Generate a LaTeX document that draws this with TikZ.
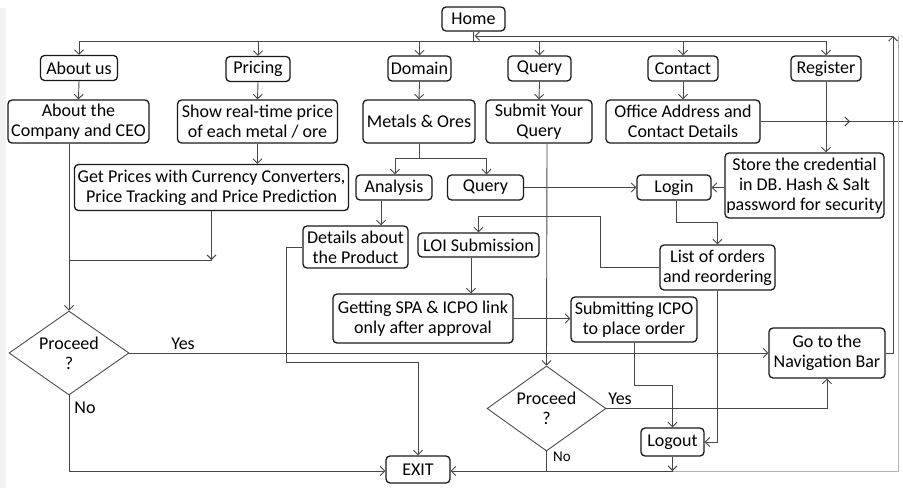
\documentclass[tikz,border=0pt]{standalone}
\usepackage{fontspec}
\setmainfont{Carlito}
\usetikzlibrary{arrows.meta,shapes.geometric}
\begin{document}
\begin{tikzpicture}[x=1pt,y=-1pt,
  box/.style={draw=black!90,line width=1.3pt,rounded corners=4pt,align=center,
    inner sep=0pt,font=\fontsize{18}{20}\selectfont},
  sz/.style 2 args={minimum width=#1pt,minimum height=#2pt},
  link/.style={draw=black!72,line width=0.9pt,-{Straight Barb[length=4.5pt,width=9pt]}},
  plain/.style={draw=black!72,line width=0.9pt},
  dia/.style={diamond,draw=black!70,line width=0.9pt,minimum width=120pt,
    minimum height=84pt,inner sep=0pt},
  lbl/.style={font=\fontsize{18}{20}\selectfont,align=center,inner sep=0pt},
  small/.style={font=\fontsize{15}{17}\selectfont,inner sep=0pt}
]
\useasboundingbox (0,0) rectangle (903,488);
\fill[black!5] (0,8) rectangle (6,488);

% top level
\node[box,sz={63}{24}] (home) at (473.5,19) {Home};
\node[box,sz={77}{25}] (about) at (79,68) {About us};
\node[box,sz={64}{25}] (pricing) at (258,69) {Pricing};
\node[box,sz={63}{25}] (domain) at (419.5,68.5) {Domain};
\node[box,sz={63}{25}] (query) at (539.5,68.5) {Query};
\node[box,sz={70}{25}] (contact) at (683,68.5) {Contact};
\node[box,sz={70}{25}] (register) at (826,68.5) {Register};

% second row
\node[box,sz={141}{43}] (aboutco) at (78.5,121.5) {About the\\Company and CEO};
\node[box,sz={160}{43}] (price) at (257.5,121.5) {Show real-time price\\of each metal / ore};
\node[box,sz={112}{43}] (metals) at (419,121.5) {Metals \& Ores};
\node[box,sz={106}{43}] (submit) at (539,121.5) {Submit Your\\Query};
\node[box,sz={154}{43}] (office) at (683,121.5) {Office Address and\\Contact Details};

% third row
\node[box,sz={274}{46}] (getprices) at (211.5,187.5) {Get Prices with Currency Converters,\\Price Tracking and Price Prediction};
\node[box,sz={76}{25}] (analysis) at (394,187.5) {Analysis};
\node[box,sz={76}{25}] (query2) at (485.5,187.5) {Query};
\node[box,sz={74}{25}] (login) at (674,187.5) {Login};
\node[box,sz={159}{65}] (store) at (804.5,185.5) {Store the credential\\in DB. Hash \& Salt\\password for security};

% middle
\node[box,sz={105}{42}] (details) at (355.5,247) {Details about\\the Product};
\node[box,sz={121}{24}] (loi) at (478.5,245) {LOI Submission};
\node[box,sz={115}{45}] (list) at (717.5,267.5) {List of orders\\and reordering};
\node[box,sz={180}{49}] (spa) at (423,318.5) {Getting SPA \& ICPO link\\only after approval};
\node[box,sz={126}{45}] (submitting) at (634,319.5) {Submitting ICPO\\to place order};
\node[box,sz={116}{50}] (nav) at (827,353) {Go to the\\Navigation Bar};

% decisions
\node[dia] (d1) at (69,353) {};
\node[lbl] (d1t) at (d1) {Proceed\\?};
\node[dia,minimum width=119pt,minimum height=85pt] (d2) at (546.5,408.5) {};
\node[lbl] (d2t) at (d2) {Proceed\\?};

% bottom
\node[box,sz={63}{28}] (logout) at (672.5,442) {Logout};
\node[box,sz={64}{27}] (exit) at (418,469.5) {EXIT};

% edge labels
\node[lbl] (yes1) at (183,344) {Yes};
\node[lbl] (no1) at (85,408) {No};
\node[lbl] (yes2) at (620,399) {Yes};
\node[small] (no2) at (562,457) {No};

% menu bus
\coordinate (bus) at (79,41);
\draw[plain] (home.south) -- (home.south |- bus);
\draw[plain] (bus) -- (register.north |- bus);
\foreach \n in {about,pricing,domain,query,contact,register}
  \draw[link] (\n.north |- bus) -- (\n.north);

% return path to home
\coordinate (rtop) at (893,36);
\draw[link] (nav.east) -- (nav.east -| rtop) -- (rtop);
\draw[link] (rtop) -- ([xshift=1pt]home.south |- rtop);

% menu to pages
\draw[link] (pricing.south) -- (price.north);
\draw[link] (domain.south) -- (metals.north);
\draw[link] (query.south) -- (submit.north);
\draw[link] (contact.south) -- (office.north);
\draw[link] (about.south) -- (aboutco.north);
\draw[link] (register.south) -- (register.south |- store.north);

% office details
\coordinate (offmid) at (850,121.5);
\coordinate (offend) at (903,121.5);
\draw[link] (office.east) -- (offmid);
\draw[plain] (offmid) -- (offend);

% left column
\coordinate (gp) at (211.5,260);
\draw[link] (price.south) -- (price.south |- getprices.north);
\draw[link] (getprices.south) -- (gp);
\draw[plain] (gp) -- (d1.north |- gp);
\draw[link] (aboutco.south -| d1.north) -- (d1.north);

% metals split
\coordinate (mj) at (419,158);
\draw[plain] (metals.south) -- (mj);
\draw[plain] ([xshift=1pt]analysis.north |- mj) -- ([xshift=1pt]query2.north |- mj);
\draw[link] ([xshift=1pt]analysis.north |- mj) -- ([xshift=1pt]analysis.north);
\draw[link] ([xshift=1pt]query2.north |- mj) -- ([xshift=1pt]query2.north);

% analysis and product details
\draw[link] ([xshift=-13pt]analysis.south) -- ([xshift=-13pt]analysis.south |- details.north);
\coordinate (dx) at (286,362);
\draw[link] (details.west) -| (dx) -- (dx -| exit.north) -- (exit.north);

% login flow
\draw[link] (query2.east) -- (login.west);
\draw[link] (store.west |- login.east) -- (login.east);
\coordinate (lj) at (676,222);
\draw[link] (lj |- login.south) -- (lj) -| (list.north);
\coordinate (lo) at (600,216);
\draw[link] (list.west) -| (lo) -| (loi.north);
\draw[link] ([xshift=-7.5pt]loi.south) -- ([xshift=-7.5pt]loi.south |- spa.north);
\draw[link] (spa.east) -- (submitting.west |- spa.east);

% ordering and logout
\coordinate (sj) at (634,385);
\draw[link] (submitting.south) -- (sj) -| (logout.north);
\draw[link] (list.south) |- (logout.east);

% query decision
\draw[link] ([xshift=0.5pt]submit.south -| d2.north) -- (d2.north);
\draw[link] (d2.east) -| (nav.south);
\draw[plain] (d2.south) -- (d2.south |- 0,471);

% first decision
\draw[link] (d1.east) -- (nav.west);
\draw[link] (d1.south) |- (exit.west |- 0,471);

% exits
\coordinate (bj) at (672.5,471);
\draw[link] (logout.south) -- (bj);
\draw[link] (bj) -- (exit.east |- bj);

% window frame
\draw[black!30,line width=1pt] (898,36) -- (898,471) -- (bj);
\end{tikzpicture}
\end{document}
